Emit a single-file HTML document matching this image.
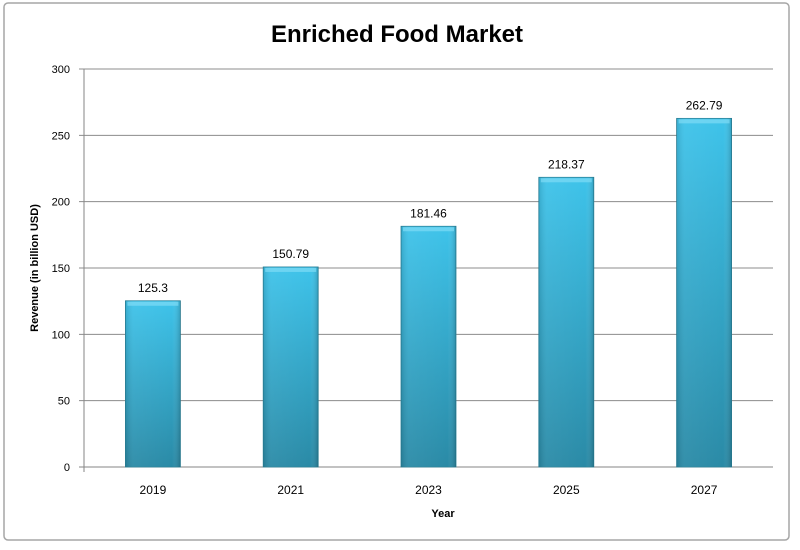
<!DOCTYPE html>
<html><head><meta charset="utf-8"><style>
body{margin:0;background:#fff;width:800px;height:550px;overflow:hidden}
svg{display:block;font-family:"Liberation Sans",sans-serif}
</style></head><body>
<svg width="800" height="550">
<defs>
<linearGradient id="bg" x1="0" y1="0" x2="0" y2="1">
<stop offset="0" stop-color="#3ec3ea"/><stop offset="1" stop-color="#2a8aa6"/>
</linearGradient>
<linearGradient id="sh" x1="0" y1="0" x2="1" y2="0">
<stop offset="0" stop-color="#000" stop-opacity="0.12"/><stop offset="0.15" stop-color="#fff" stop-opacity="0.05"/>
<stop offset="0.85" stop-color="#fff" stop-opacity="0"/><stop offset="1" stop-color="#000" stop-opacity="0.18"/>
</linearGradient>
</defs>
<rect x="4" y="3" width="785" height="537" rx="4" fill="#fff" stroke="#a6a6a6" stroke-width="1.5"/>
<text x="397" y="42" text-anchor="middle" font-size="24" font-weight="bold" fill="#000">Enriched Food Market</text>
<g id="grid"></g><g id="bars"></g>
<text x="443" y="517" text-anchor="middle" font-size="11" font-weight="bold">Year</text>
<text transform="translate(38,268) rotate(-90)" text-anchor="middle" font-size="11" font-weight="bold">Revenue (in billion USD)</text>
</svg>
<script>
const categories=["2019","2021","2023","2025","2027"];
const values=[125.3,150.79,181.46,218.37,262.79];
const labels=["125.3","150.79","181.46","218.37","262.79"];
const ticks=[0,50,100,150,200,250,300];
const X0=84,X1=773,Y0=467,Y1=69,MAX=300;
const y=v=>Y0-(v/MAX)*(Y0-Y1);
const band=(X1-X0)/categories.length;
const xc=i=>X0+band*(i+0.5);
const NS="http://www.w3.org/2000/svg";
function mk(t,a,p){const e=document.createElementNS(NS,t);for(const k in a)e.setAttribute(k,a[k]);p.appendChild(e);return e;}
const g=document.getElementById('grid'),b=document.getElementById('bars');
ticks.forEach(t=>{
 const l=mk('line',{x1:X0-5,x2:X1,y1:y(t),y2:y(t),stroke:t===0?'#868686':'#8c8c8c','stroke-width':1},g);
 
 
 const tx=mk('text',{x:X0-14,y:y(t)+4,'text-anchor':'end','font-size':11,fill:'#000'},g);tx.textContent=t;
 
 
});
const ax=mk('line',{x1:X0,x2:X0,y1:Y1,y2:Y0+5,stroke:'#868686'},g);


categories.forEach((c,i)=>{
 const w=55,x=xc(i)-w/2,top=y(values[i]);
 const r=mk('rect',{x:x,y:top,width:w,height:Y0-top,fill:'url(#bg)',stroke:'#2b8299','stroke-width':0.8},b);
 
 
 const s=mk('rect',{x:x,y:top,width:w,height:Y0-top,fill:'url(#sh)'},b);
 
 
 const cap=mk('rect',{x:x+2,y:top+1,width:w-4,height:4,fill:'#7fdcf5',opacity:0.7},b);
 
 
 const v=mk('text',{x:xc(i),y:top-9,'text-anchor':'middle','font-size':12},b);v.textContent=labels[i];
 
 
 const xl=mk('text',{x:xc(i),y:494,'text-anchor':'middle','font-size':12},b);xl.textContent=c;
 
 
});
</script>
</body></html>
